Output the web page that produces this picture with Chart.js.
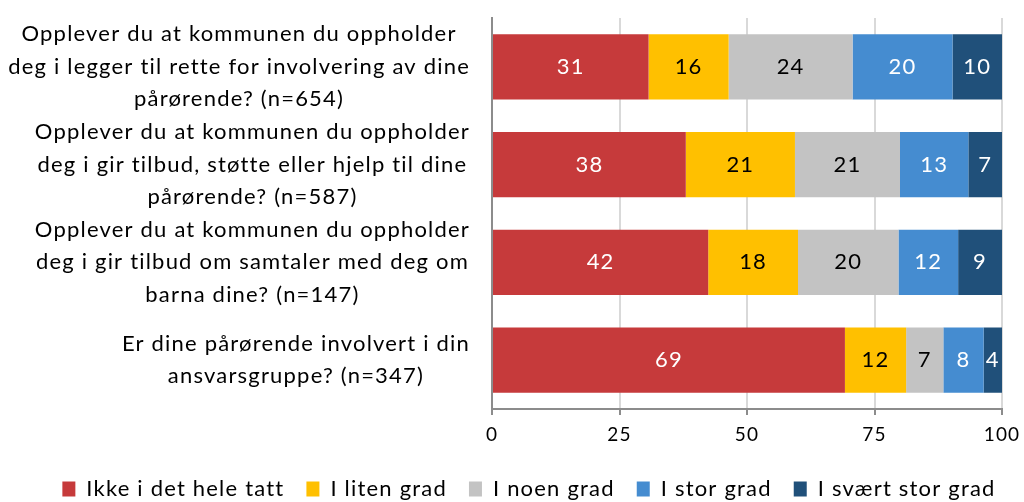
<!DOCTYPE html>
<html>
<head>
<meta charset="utf-8">
<script src="https://cdn.jsdelivr.net/npm/chart.js@4"></script>
<style>
  body { margin: 0; background: #fff; }
  #wrap { width: 1024px; height: 502px; }
</style>
</head>
<body>
<div id="wrap"><canvas id="chart"></canvas></div>
<script>
// spørsmål (kategorier), ett linjeskift per element
const questions = [
  ["Opplever du at kommunen du oppholder", "deg i legger til rette for involvering av dine", "pårørende? (n=654)"],
  ["Opplever du at kommunen du oppholder", "deg i gir tilbud, støtte eller hjelp til dine", "pårørende? (n=587)"],
  ["Opplever du at kommunen du oppholder", "deg i gir tilbud om samtaler med deg om", "barna dine? (n=147)"],
  ["Er dine pårørende involvert i din", "ansvarsgruppe? (n=347)"]
];
const seriesNames = ["Ikke i det hele tatt", "I liten grad", "I noen grad", "I stor grad", "I svært stor grad"];
// prosent per spørsmål (avlest fra søylene, vist avrundet)
const ikkeIDetHeleTatt = [30.7, 38.0, 42.4, 69.2];
const iLitenGrad = [15.7, 21.4, 17.6, 12.0];
const iNoenGrad = [24.3, 20.6, 19.7, 7.3];
const iStorGrad = [19.6, 13.4, 11.7, 7.9];
const iSvaertStorGrad = [9.7, 6.6, 8.6, 3.6];
const xTicks = [0, 25, 50, 75, 100];

const colors = ["#c63a3b", "#ffc000", "#c3c3c3", "#458cd0", "#20507a"];
const labelColors = ["#fff", "#000", "#000", "#fff", "#fff"];
const FONT = "Lato";
const SPACING = "1.2px";

// litt sperret tekst som i originalen
const spacing = {
  id: "spacing",
  beforeUpdate(chart) { chart.ctx.letterSpacing = SPACING; },
  beforeDraw(chart) { chart.ctx.letterSpacing = SPACING; },
  afterLayout(chart) {
    // legenden står litt til høyre for midten i originalen
    chart.legend.left += 28;
    chart.legend.right += 28;
  }
};

// verdier midt i hver søyle
const barLabels = {
  id: "barLabels",
  afterDatasetsDraw(chart) {
    const ctx = chart.ctx;
    ctx.save();
    ctx.font = "22px " + FONT;
    ctx.textAlign = "center";
    ctx.textBaseline = "middle";
    chart.data.datasets.forEach((ds, i) => {
      chart.getDatasetMeta(i).data.forEach((bar, j) => {
        ctx.fillStyle = labelColors[i];
        ctx.fillText(Math.round(ds.data[j]), (bar.x + bar.base) / 2, bar.y);
      });
    });
    ctx.restore();
  }
};

// spørsmålstekst, hver linje sentrert i sin blokk
const questionLabels = {
  id: "questionLabels",
  afterDraw(chart) {
    const ctx = chart.ctx;
    const y = chart.scales.y;
    const right = chart.chartArea.left - 22;
    const lh = 32.5;
    ctx.save();
    ctx.font = "22px " + FONT;
    ctx.fillStyle = "#000";
    ctx.textAlign = "center";
    ctx.textBaseline = "middle";
    questions.forEach((lines, i) => {
      const widest = Math.max(...lines.map(l => ctx.measureText(l).width));
      const cx = right - widest / 2;
      const top = y.getPixelForValue(i) - (lines.length - 1) * lh / 2;
      lines.forEach((l, k) => ctx.fillText(l, cx, top + k * lh));
    });
    ctx.restore();
  }
};

const allData = [ikkeIDetHeleTatt, iLitenGrad, iNoenGrad, iStorGrad, iSvaertStorGrad];

new Chart(document.getElementById("chart"), {
  type: "bar",
  data: {
    labels: questions.map(q => q.join(" ")),
    datasets: allData.map((d, i) => ({
      label: seriesNames[i],
      data: d,
      backgroundColor: colors[i],
      borderWidth: 0,
      categoryPercentage: 1,
      barPercentage: 0.67
    }))
  },
  options: {
    indexAxis: "y",
    responsive: true,
    maintainAspectRatio: false,
    animation: false,
    devicePixelRatio: 1,
    layout: { padding: { top: 18, right: 22, bottom: -8, left: 0 } },
    scales: {
      x: {
        stacked: true,
        min: 0,
        max: 100,
        afterBuildTicks: s => { s.ticks = xTicks.map(v => ({ value: v })); },
        ticks: { color: "#000", font: { size: 19, family: FONT }, padding: 8 },
        grid: { color: "#d9d9d9", lineWidth: 2, tickLength: 6, tickColor: "#8c8c8c" },
        border: { color: "#8c8c8c", width: 2 },
        afterFit: s => { s.height = 47; s.paddingLeft = 0; s.paddingRight = 0; }
      },
      y: {
        stacked: true,
        grid: { display: false },
        ticks: { display: false },
        border: { color: "#8c8c8c", width: 2 },
        afterFit: s => { s.width = 492; }
      }
    },
    plugins: {
      legend: {
        position: "bottom",
        labels: {
          boxWidth: 13,
          boxHeight: 15,
          padding: 22,
          color: "#000",
          font: { size: 22, family: FONT }
        }
      },
      tooltip: { enabled: false }
    }
  },
  plugins: [spacing, barLabels, questionLabels]
});
</script>
</body>
</html>
